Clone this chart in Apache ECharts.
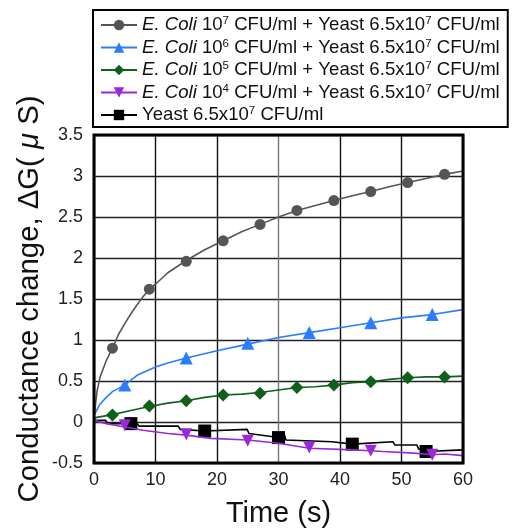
<!DOCTYPE html>
<html>
<head>
<meta charset="utf-8">
<script src="https://cdn.jsdelivr.net/npm/echarts@6/dist/echarts.min.js"></script>
<style>html,body{margin:0;padding:0;background:#fff}#c{width:513px;height:528px}</style>
</head>
<body>
<div id="c"></div>
<script>
// Series names (rich text for superscripts)
const seriesNames = [
  '{i|E. Coli} 10{s|7} CFU/ml + Yeast 6.5x10{s|7} CFU/ml',
  '{i|E. Coli} 10{s|6} CFU/ml + Yeast 6.5x10{s|7} CFU/ml',
  '{i|E. Coli} 10{s|5} CFU/ml + Yeast 6.5x10{s|7} CFU/ml',
  '{i|E. Coli} 10{s|4} CFU/ml + Yeast 6.5x10{s|7} CFU/ml',
  'Yeast 6.5x10{s|7} CFU/ml'
];
const colors = ['#555555', '#2b7cff', '#0f601b', '#9a28d8', '#000000'];
const symbols = ['circle', 'triangle', 'diamond', 'path://M0,0 L10,0 L5,9 Z', 'rect'];
const symbolSizes = [11, 13, 13, 12, 13];

// x ticks / y ticks
const xTicks = [0, 10, 20, 30, 40, 50, 60];
const yTicks = [-0.5, 0, 0.5, 1, 1.5, 2, 2.5, 3, 3.5];

// Curves (time s, conductance change uS)
const e7CurveX = [0, 0.5, 1, 2, 3, 4, 5, 6, 7, 8, 9, 10, 12, 15, 18, 21, 24, 27, 30, 33, 36, 39, 42, 45, 48, 51, 54, 57, 60];
const e7CurveY = [0.05, 0.38, 0.55, 0.75, 0.90, 1.07, 1.20, 1.32, 1.43, 1.53, 1.62, 1.68, 1.82, 1.97, 2.10, 2.21, 2.32, 2.41, 2.50, 2.58, 2.64, 2.70, 2.76, 2.81, 2.87, 2.92, 2.97, 3.02, 3.06];
const e7MarkX = [3, 9, 15, 21, 27, 33, 39, 45, 51, 57];
const e7MarkY = [0.90, 1.62, 1.96, 2.21, 2.41, 2.58, 2.70, 2.81, 2.92, 3.02];

const e6CurveX = [0, 1, 2, 3, 5, 7, 10, 12, 15, 20, 25, 30, 35, 40, 45, 50, 55, 60];
const e6CurveY = [0.08, 0.22, 0.30, 0.37, 0.45, 0.57, 0.67, 0.72, 0.78, 0.87, 0.95, 1.03, 1.09, 1.15, 1.21, 1.27, 1.31, 1.37];
const e6MarkX = [5, 15, 25, 35, 45, 55];
const e6MarkY = [0.45, 0.78, 0.96, 1.09, 1.21, 1.31];

const e5CurveX = [0, 3, 6, 9, 12, 15, 18, 21, 24, 27, 30, 33, 36, 39, 42, 45, 48, 51, 54, 57, 60];
const e5CurveY = [0.05, 0.09, 0.14, 0.19, 0.23, 0.26, 0.30, 0.33, 0.34, 0.36, 0.39, 0.42, 0.43, 0.45, 0.48, 0.49, 0.52, 0.54, 0.55, 0.55, 0.56];
const e5MarkX = [3, 9, 15, 21, 27, 33, 39, 45, 51, 57];
const e5MarkY = [0.085, 0.195, 0.26, 0.33, 0.35, 0.42, 0.45, 0.49, 0.54, 0.55];

const e4CurveX = [0, 2, 5, 8, 12, 15, 19, 25, 30, 35, 42, 47, 52, 57, 60];
const e4CurveY = [0.02, -0.02, -0.06, -0.10, -0.14, -0.16, -0.20, -0.22, -0.26, -0.32, -0.34, -0.36, -0.38, -0.39, -0.41];
const e4MarkX = [5, 15, 25, 35, 45, 55];
const e4MarkY = [-0.04, -0.15, -0.23, -0.31, -0.35, -0.40];

const yeastCurveX = [0, 1.9, 2.2, 7, 7.3, 13.7, 14, 24.9, 25.2, 30.9, 31.2, 38.7, 48.6, 48.9, 52.5, 52.8, 60];
const yeastCurveY = [0.02, 0.02, -0.02, -0.02, -0.05, -0.05, -0.09, -0.09, -0.14, -0.14, -0.22, -0.24, -0.24, -0.28, -0.28, -0.33, -0.34];
const yeastMarkX = [6, 18, 30, 42, 54];
const yeastMarkY = [-0.02, -0.11, -0.19, -0.27, -0.36];

const curves = [
  [e7CurveX, e7CurveY, e7MarkX, e7MarkY],
  [e6CurveX, e6CurveY, e6MarkX, e6MarkY],
  [e5CurveX, e5CurveY, e5MarkX, e5MarkY],
  [e4CurveX, e4CurveY, e4MarkX, e4MarkY],
  [yeastCurveX, yeastCurveY, yeastMarkX, yeastMarkY]
];

function buildData(cx, cy, mx, my, sym, size) {
  const pts = [];
  cx.forEach((x, i) => pts.push({ value: [x, cy[i]], symbol: 'none' }));
  mx.forEach((x, i) => pts.push({ value: [x, my[i]], symbol: sym, symbolSize: size }));
  pts.sort((a, b) => a.value[0] - b.value[0]);
  return pts;
}

const FONT = '"Liberation Sans", Arial, sans-serif';
const series = curves.map((c, k) => ({
  name: seriesNames[k],
  type: 'line',
  data: buildData(c[0], c[1], c[2], c[3], symbols[k], symbolSizes[k]),
  symbol: symbols[k],
  symbolSize: symbolSizes[k],
  showSymbol: true,
  showAllSymbol: true,
  color: colors[k],
  lineStyle: { color: colors[k], width: 1.6 },
  itemStyle: { color: colors[k] },
  z: 10 - k,
  animation: false
}));

const chart = echarts.init(document.getElementById('c'));
chart.setOption({
  animation: false,
  backgroundColor: '#fff',
  grid: { left: 94, right: 50, top: 135, bottom: 65, show: true, borderColor: '#000', borderWidth: 3, backgroundColor: 'transparent', z: 20, containLabel: false, outerBoundsMode: 'none' },
  legend: {
    orient: 'vertical',
    left: 93, top: 10,
    padding: [5, 8, 2, 7],
    itemGap: 2.5,
    itemWidth: 36, itemHeight: 13,
    borderColor: '#000', borderWidth: 2,
    backgroundColor: '#fff',
    data: seriesNames,
    textStyle: {
      fontFamily: FONT, fontSize: 18.6, color: '#111', lineHeight: 20,
      rich: {
        i: { fontFamily: FONT, fontSize: 18.6, fontStyle: 'italic', color: '#111', lineHeight: 20 },
        s: { fontFamily: FONT, fontSize: 11.5, color: '#111', verticalAlign: 'top', lineHeight: 20, padding: [0, 0, 7, 0] }
      }
    }
  },
  xAxis: {
    type: 'value', min: 0, max: 60, interval: 10,
    name: 'Time (s)', nameLocation: 'middle', nameGap: 36, nameMoveOverlap: false,
    nameTextStyle: { fontFamily: FONT, fontSize: 29, color: '#111' },
    axisLine: { show: false }, axisTick: { show: false },
    axisLabel: { fontFamily: FONT, fontSize: 18, color: '#222', margin: 8 },
    splitLine: { show: true, lineStyle: { color: ['#111', '#111', '#111', '#777', '#111', '#111', '#111'], width: 1.4 } }
  },
  yAxis: {
    type: 'value', min: -0.5, max: 3.5, interval: 0.5,
    name: 'Conductance change, ΔG( {i|μ} S)', nameLocation: 'middle', nameGap: 50, nameMoveOverlap: false,
    nameTextStyle: { fontFamily: FONT, fontSize: 29.3, color: '#111',
      rich: { i: { fontFamily: FONT, fontSize: 29.3, fontStyle: 'italic', color: '#111' } } },
    axisLine: { show: false }, axisTick: { show: false },
    axisLabel: { fontFamily: FONT, fontSize: 18, color: '#222', margin: 11 },
    splitLine: { show: true, lineStyle: { color: '#222', width: 1.4 } }
  },
  series: series
});
</script>
</body>
</html>
